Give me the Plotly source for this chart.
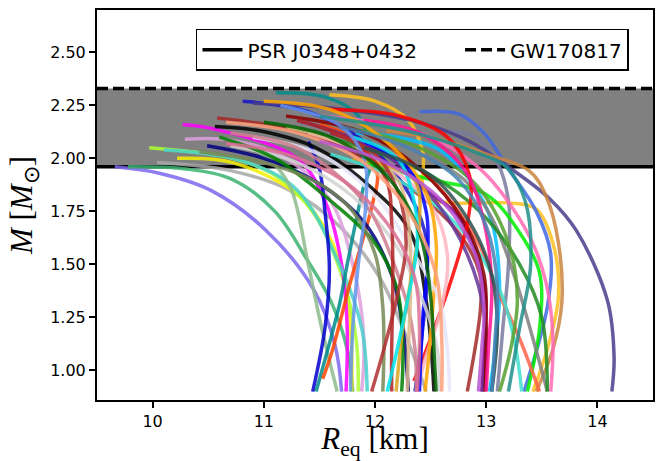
import plotly.graph_objects as go

# ---------------- data ----------------
PSR_MASS = 1.96      # PSR J0348+0432 lower bound
GW_MASS = 2.33       # GW170817 upper bound
x_ticks = [10, 11, 12, 13, 14]
y_ticks = [1.00, 1.25, 1.50, 1.75, 2.00, 2.25, 2.50]

curve_colors = [
    "#7b68ee", "#3cb371", "#a9a9a9", "#f5f000", "#adff2f", "#dda0dd", "#ff00ff",
    "#48d1cc", "#8fbc8f", "#0000cd", "#008b8b", "#ff4500", "#000000", "#a52a2a",
    "#1515c8", "#000080", "#ffc020", "#4169e1", "#7a7aa0", "#483d8b", "#cd853f",
    "#00bfff", "#00ee00", "#ff69b4", "#808080", "#ff6347", "#40e0d0", "#228b22",
    "#55a030", "#800080", "#663399", "#8b0000", "#ff0000", "#ffb6c1", "#ffa500",
    "#0000ff", "#e6e6fa", "#d3d3d3", "#d08090", "#deb887", "#008000", "#daa520",
    "#b22222", "#00e5ee", "#778855", "#b03030", "#6495ed", "#006400", "#ffa07a",
    "#ff1493", "#ba55d3", "#2f4f4f", "#db7093", "#4682b4", "#20908a",
]

curve_R = [
    [9.66, 10.06, 10.52, 11.02, 11.45, 11.64, 11.70],
    [9.78, 10.3, 10.72, 11.1, 11.38, 11.6, 11.75, 11.8],
    [10.04, 10.72, 11.23, 11.68, 12.04, 12.25, 12.46],
    [10.22, 10.72, 11.3, 11.6, 11.75, 11.79, 11.79],
    [9.97, 10.72, 11.1, 11.45, 11.7, 11.83, 11.85],
    [10.29, 10.72, 11.2, 11.6, 11.8, 11.9, 11.88],
    [10.27, 10.54, 11.3, 11.55, 11.7, 11.75, 11.74],
    [10.1, 10.8, 11.3, 11.68, 11.88, 11.93],
    [10.9, 11.1, 11.25, 11.4, 11.52, 11.66],
    [11.4, 11.5, 11.55, 11.59, 11.55, 11.44],
    [11.11, 11.55, 11.85, 11.97, 11.89, 11.75, 11.68, 11.47],
    [11.5, 11.85, 12.02, 11.98, 11.77, 11.62, 11.53],
    [10.56, 10.96, 11.47, 11.86, 12.31, 12.46, 12.53],
    [10.58, 11.5, 12.34, 12.75, 12.94, 12.95, 12.83],
    [10.81, 11.4, 11.9, 12.25, 12.45, 12.47, 12.43, 12.36],
    [10.49, 11.0, 11.5, 11.9, 12.15, 12.25, 12.3],
    [11.59, 12.0, 12.3, 12.43, 12.45, 12.7, 13.2, 13.45, 13.6, 13.65, 13.55, 13.42],
    [12.4, 12.75, 12.98, 13.2, 13.45, 13.58, 13.55, 13.34],
    [12.65, 12.9, 13.1, 13.2, 13.2, 13.15, 13.1],
    [10.9, 11.56, 12.4, 12.85, 13.2, 13.57, 13.81, 14.09, 14.15, 14.13],
    [12.1, 12.58, 13.0, 13.39, 13.54, 13.65, 13.68, 13.6, 13.45],
    [11.83, 12.2, 12.58, 12.85, 13.05, 13.12, 13.08, 13.03],
    [11.9, 12.5, 13.0, 13.3, 13.48, 13.48, 13.37],
    [11.5, 12.0, 12.5, 12.9, 13.12, 13.4, 13.54, 13.6, 13.58],
    [11.9, 12.4, 12.8, 13.05, 13.25, 13.42, 13.55],
    [11.9, 12.4, 12.75, 12.95, 13.1, 13.3, 13.48],
    [11.6, 12.2, 12.73, 13.12, 13.25, 13.32],
    [11.2, 11.9, 12.5, 12.94, 13.3, 13.5, 13.55],
    [11.7, 12.4, 12.9, 13.2, 13.28, 13.22, 13.12],
    [11.6, 12.1, 12.46, 12.76, 12.98, 12.99, 12.96],
    [11.3, 12.0, 12.4, 12.7, 12.93, 13.0, 12.97],
    [11.2, 11.9, 12.4, 12.8, 12.98, 13.0, 12.99],
    [11.6, 12.22, 12.65, 12.85, 12.84, 12.7, 12.5, 12.35],
    [11.4, 12.0, 12.5, 12.65, 12.6, 12.45, 12.38],
    [11.0, 11.6, 12.1, 12.45, 12.55, 12.52, 12.48, 12.45],
    [11.9, 12.3, 12.46, 12.47, 12.43, 12.4],
    [10.9, 11.5, 12.04, 12.35, 12.58, 12.65, 12.67],
    [10.7, 11.3, 11.8, 12.2, 12.45, 12.56, 12.58],
    [10.7, 11.3, 11.75, 11.97, 12.28, 12.36, 12.37],
    [11.2, 11.8, 12.2, 12.3, 12.32, 12.3, 12.29],
    [10.6, 11.1, 11.6, 12.0, 12.2, 12.25, 12.24],
    [11.8, 12.35, 12.4, 12.33, 12.25, 12.19],
    [11.3, 11.8, 12.1, 12.15, 12.16, 12.15, 12.15],
    [11.8, 12.2, 12.35, 12.38, 12.3, 12.2, 12.11],
    [10.42, 11.0, 11.5, 11.8, 12.0, 12.07, 12.08, 12.07],
    [11.6, 12.0, 12.2, 12.28, 12.2, 12.08, 11.97],
    [11.15, 11.7, 11.9, 11.92, 11.85, 11.8, 11.78],
    [11.0, 11.6, 12.1, 12.4, 12.5, 12.53, 12.55],
    [10.66, 11.3, 11.9, 12.3, 12.55, 12.6, 12.6],
    [11.9, 12.4, 12.8, 12.98, 13.05, 13.02, 13.0],
    [11.5, 12.1, 12.6, 12.9, 12.98, 12.96, 12.93],
    [11.9, 12.5, 12.85, 13.05, 13.1, 13.05],
    [10.66, 11.2, 11.7, 12.1, 12.35, 12.4, 12.38],
    [11.7, 12.3, 12.75, 13.0, 13.1, 13.08, 13.05],
    [11.5, 12.1, 12.5, 12.9, 13.18, 13.35, 13.4, 13.3, 13.2],
]

curve_M = [
    [1.96, 1.93, 1.85, 1.66, 1.38, 1.12, 0.90],
    [1.96, 1.95, 1.90, 1.75, 1.53, 1.33, 1.10, 0.90],
    [1.98, 1.94, 1.85, 1.68, 1.44, 1.20, 0.90],
    [2.00, 1.98, 1.83, 1.62, 1.35, 1.10, 0.90],
    [2.05, 2.00, 1.92, 1.74, 1.45, 1.15, 0.90],
    [2.09, 2.085, 2.00, 1.80, 1.50, 1.15, 0.90],
    [2.16, 2.14, 2.00, 1.80, 1.50, 1.20, 0.90],
    [2.04, 1.99, 1.85, 1.50, 1.20, 0.90],
    [2.05, 1.97, 1.85, 1.50, 1.20, 0.90],
    [2.08, 1.95, 1.75, 1.48, 1.20, 0.90],
    [2.31, 2.29, 2.20, 2.00, 1.85, 1.50, 1.31, 0.90],
    [2.16, 2.08, 1.93, 1.79, 1.40, 1.10, 0.96],
    [2.15, 2.13, 2.05, 1.91, 1.66, 1.33, 0.90],
    [2.19, 2.10, 1.85, 1.65, 1.46, 1.30, 0.90],
    [2.27, 2.22, 2.08, 1.88, 1.65, 1.45, 1.20, 0.90],
    [2.06, 2.00, 1.88, 1.70, 1.45, 1.20, 0.90],
    [2.30, 2.27, 2.18, 2.03, 1.82, 1.79, 1.79, 1.76, 1.60, 1.35, 1.10, 0.90],
    [2.22, 2.21, 2.12, 1.95, 1.75, 1.55, 1.30, 0.90],
    [2.13, 2.10, 1.98, 1.80, 1.50, 1.20, 0.90],
    [2.26, 2.24, 2.17, 2.08, 1.96, 1.81, 1.66, 1.33, 1.06, 0.90],
    [2.13, 2.09, 2.02, 1.94, 1.82, 1.60, 1.32, 1.10, 0.90],
    [2.12, 2.10, 2.04, 1.90, 1.70, 1.40, 1.10, 0.90],
    [1.98, 1.90, 1.83, 1.65, 1.46, 1.20, 0.90],
    [2.20, 2.17, 2.10, 1.97, 1.85, 1.62, 1.41, 1.15, 0.90],
    [2.10, 2.02, 1.90, 1.72, 1.45, 1.15, 0.90],
    [2.08, 1.95, 1.75, 1.58, 1.38, 1.15, 0.90],
    [2.02, 1.90, 1.69, 1.38, 1.15, 0.90],
    [2.15, 2.05, 1.92, 1.75, 1.50, 1.25, 0.90],
    [2.15, 2.05, 1.88, 1.60, 1.33, 1.10, 0.90],
    [2.12, 2.02, 1.85, 1.72, 1.40, 1.20, 0.90],
    [2.18, 2.05, 1.88, 1.68, 1.40, 1.15, 0.90],
    [2.20, 2.12, 1.95, 1.70, 1.45, 1.20, 0.90],
    [2.23, 2.20, 2.10, 1.92, 1.72, 1.45, 1.15, 0.95],
    [2.12, 2.00, 1.78, 1.55, 1.30, 1.05, 0.90],
    [2.27, 2.23, 2.08, 1.85, 1.60, 1.30, 1.05, 0.90],
    [2.08, 1.95, 1.75, 1.50, 1.25, 0.90],
    [2.10, 2.02, 1.80, 1.55, 1.33, 1.10, 0.90],
    [2.06, 1.98, 1.82, 1.58, 1.30, 1.10, 0.90],
    [2.12, 2.05, 1.88, 1.74, 1.33, 1.10, 0.90],
    [2.15, 2.05, 1.90, 1.70, 1.40, 1.10, 0.90],
    [2.10, 2.00, 1.80, 1.60, 1.38, 1.10, 0.90],
    [2.00, 1.90, 1.70, 1.45, 1.20, 0.90],
    [2.18, 2.08, 1.90, 1.70, 1.40, 1.10, 0.90],
    [2.10, 2.00, 1.80, 1.60, 1.35, 1.10, 0.90],
    [2.03, 1.98, 1.88, 1.75, 1.55, 1.30, 1.10, 0.90],
    [2.12, 2.02, 1.85, 1.60, 1.35, 1.10, 0.90],
    [2.25, 2.15, 2.00, 1.80, 1.50, 1.20, 0.90],
    [2.17, 2.10, 1.92, 1.65, 1.35, 1.10, 0.90],
    [2.17, 2.12, 1.98, 1.75, 1.45, 1.15, 0.90],
    [2.18, 2.12, 1.95, 1.70, 1.40, 1.10, 0.90],
    [2.08, 1.98, 1.80, 1.55, 1.30, 1.10, 0.90],
    [2.05, 1.92, 1.70, 1.45, 1.20, 0.90],
    [2.07, 2.02, 1.90, 1.70, 1.45, 1.20, 0.90],
    [2.15, 2.05, 1.90, 1.68, 1.40, 1.15, 0.90],
    [2.20, 2.15, 2.10, 2.03, 1.96, 1.80, 1.50, 1.20, 0.90],
]

X_RANGE = [9.5, 14.5]
Y_RANGE = [0.86, 2.70]

# ---------------- figure ----------------
fig = go.Figure()

fig.add_shape(type="rect", xref="paper", x0=0, x1=1, yref="y",
              y0=PSR_MASS, y1=GW_MASS, fillcolor="#808080",
              line=dict(width=0), layer="below")

fig.add_trace(go.Scatter(x=X_RANGE, y=[PSR_MASS, PSR_MASS], mode="lines",
                         line=dict(color="black", width=3.5),
                         name="PSR J0348+0432" + "\u00a0" * 6))
fig.add_trace(go.Scatter(x=X_RANGE, y=[GW_MASS, GW_MASS], mode="lines",
                         line=dict(color="black", width=3.5, dash="11px,5px"),
                         name="GW170817"))

for col, rr, mm in zip(curve_colors, curve_R, curve_M):
    fig.add_trace(go.Scatter(x=rr, y=mm, mode="lines",
                             line=dict(color=col, width=3.5, shape="spline", smoothing=1.0),
                             opacity=0.85, showlegend=False, hoverinfo="skip"))

axis_common = dict(showline=True, linecolor="black", linewidth=2, mirror=True,
                   ticks="outside", ticklen=6, tickwidth=1.5, tickcolor="black",
                   showgrid=False, zeroline=False, automargin=False,
                   tickfont=dict(family="DejaVu Sans", size=16, color="black"))

fig.update_layout(
    width=657, height=461,
    margin=dict(l=97, r=4, t=10, b=61),
    paper_bgcolor="white", plot_bgcolor="white",
    xaxis=dict(range=X_RANGE, tickvals=x_ticks,
               title=dict(text="<i>R</i><sub>eq</sub> [km]", standoff=13,
                          font=dict(family="Liberation Serif", size=31, color="black")),
               **axis_common),
    yaxis=dict(range=Y_RANGE, tickvals=y_ticks,
               ticktext=[f"{v:.2f}" for v in y_ticks],
               title=dict(text="<i>M</i> [<i>M</i><sub>⊙</sub>]", standoff=8,
                          font=dict(family="Liberation Serif", size=31, color="black")),
               **axis_common),
    legend=dict(orientation="h", x=0.178, y=0.952, xanchor="left", yanchor="top",
                bgcolor="white", bordercolor="black", borderwidth=1.5,
                font=dict(family="DejaVu Sans", size=20, color="black"),
                itemwidth=40),
    showlegend=True,
)

fig.write_html("out.html")
